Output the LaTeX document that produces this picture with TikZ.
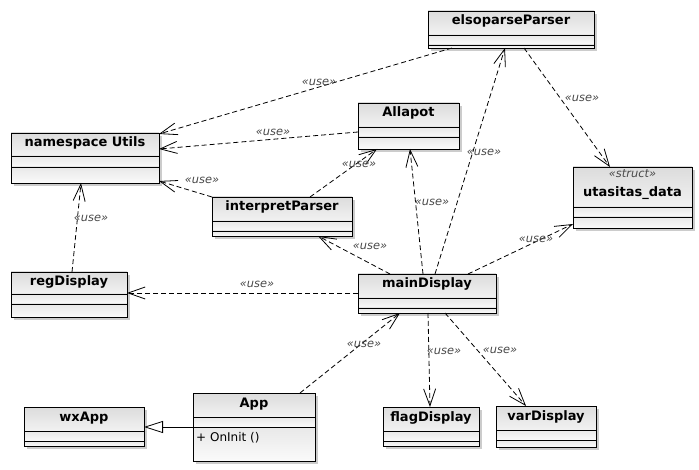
\documentclass[tikz,border=0pt]{standalone}
\usepackage{fontspec}
\setmainfont{DejaVu Sans}
\usetikzlibrary{arrows.meta,calc}
\definecolor{hdrtop}{HTML}{DCDCDC}
\definecolor{hdrbot}{HTML}{F2F2F2}
\definecolor{cmptop}{HTML}{E8E8E8}
\definecolor{cmpbot}{HTML}{FAFAFA}
\definecolor{lblgray}{HTML}{4A4A4A}
\tikzset{
  shadowfill/.style={fill=black, opacity=0.2},
  classframe/.style={draw=black, line width=0.9pt, inner sep=0pt, outer sep=0pt, anchor=north west, rectangle},
  classline/.style={draw=black, line width=0.9pt},
  classname/.style={font=\fontsize{13}{15}\selectfont\bfseries, anchor=base, inner sep=0pt},
  stereo/.style={font=\fontsize{11.4}{13}\selectfont\itshape, text=lblgray, inner sep=0pt},
  opname/.style={font=\fontsize{12}{14}\selectfont, anchor=base west, inner sep=0pt},
  lbl/.style={font=\fontsize{11.4}{13}\selectfont\itshape, text=lblgray, inner sep=0.5pt},
  dep/.style={draw=black, line width=0.8pt, dash pattern=on 5pt off 3pt,
    -{Straight Barb[length=17pt,width=12pt,line width=0.8pt]}},
  gen/.style={draw=black, line width=0.8pt,
    -{Triangle[open, length=19pt, width=12pt, fill=white, line width=0.8pt]}},
}
\newcommand\umlclass[8]{%
  \fill[shadowfill] ({#2+3},{#3+3}) rectangle ({#4+3},{#5+3});
  \shade[top color=hdrtop, bottom color=hdrbot] (#2,#3) rectangle (#4,#6);
  \shade[top color=cmptop, bottom color=cmpbot] (#2,#6) rectangle (#4,#7);
  \shade[top color=cmptop, bottom color=cmpbot] (#2,#7) rectangle (#4,#5);
  \node[classframe, minimum width={(#4-#2)*1pt}, minimum height={(#5-#3)*1pt}] (#1) at (#2,#3) {};
  \draw[classline] (#2,#6) -- (#4,#6) (#2,#7) -- (#4,#7);
  \node[classname] (#1-t) at ({(#2+#4)/2},{#3+14}) {#8};
}
\begin{document}
\begin{tikzpicture}[x=1pt,y=-1pt]
\useasboundingbox (0,0) rectangle (699,470);
\fill[white] (0,0) rectangle (699,470);

\umlclass{elso}{428}{11}{594}{48}{35}{45}{elsoparseParser}
\umlclass{utils}{11}{133}{159}{183}{156}{167}{namespace Utils}
\umlclass{allapot}{358}{103}{459}{149}{127}{137}{Allapot}
\umlclass{utas}{573}{167}{692}{228}{207}{217}{}
\node[stereo] (utas-s) at (632.5,174) {«struct»};
\node[classname] (utas-n) at (632.5,197) {utasitas\_data};
\umlclass{interp}{212}{197}{352}{236}{221}{231}{interpretParser}
\umlclass{reg}{11}{272}{127}{317}{294}{304}{regDisplay}
\umlclass{main}{358}{274}{496}{313}{298}{308}{mainDisplay}
\umlclass{wx}{24}{407}{144}{446}{431}{441}{wxApp}
\umlclass{app}{193}{393}{315}{461}{417}{427}{App}
\node[opname] (app-op) at (196,441) {+ OnInit ()};
\umlclass{flag}{383}{407}{479}{446}{431}{441}{flagDisplay}
\umlclass{var}{496}{406}{596}{447}{430}{440}{varDisplay}

% dependencies
\draw[dep] ($(elso.north west)+(24,37)$) -- ($(utils.north west)+(148,1)$);
\draw[dep] ($(allapot.north west)+(0,29)$) -- ($(utils.north west)+(148,16)$);
\draw[dep] (interp.north west) -- ($(utils.north west)+(148,48)$);
\draw[dep] ($(interp.north west)+(98,0)$) -- ($(allapot.north west)+(19,46)$);
\draw[dep] ($(reg.north west)+(61,0)$) -- ($(utils.north west)+(70,50)$);
\draw[dep] ($(main.north west)+(32,0)$) -- ($(interp.north west)+(106,39)$);
\draw[dep] ($(main.north west)+(65,0)$) -- ($(allapot.north west)+(52,46)$);
\draw[dep] ($(main.north west)+(77,0)$) -- ($(elso.north west)+(77,37)$);
\draw[dep] ($(main.north west)+(110,0)$) -- ($(utas.north west)+(0,57)$);
\draw[dep] ($(elso.north west)+(96,37)$) -- ($(utas.north west)+(37,0)$);
\draw[dep] ($(main.north west)+(0,19)$) -- ($(reg.north west)+(116,21)$);
\draw[dep] ($(app.north west)+(107,0)$) -- ($(main.north west)+(42,39)$);
\draw[dep] ($(main.north west)+(70,39)$) -- ($(flag.north west)+(47,0)$);
\draw[dep] ($(main.north west)+(87,39)$) -- ($(var.north west)+(30,0)$);
\draw[gen] ($(app.north west)+(0,34)$) -- ($(wx.north west)+(120,20)$);

% labels
\node[lbl] (l1) at (319,82) {«use»};
\node[lbl] (l2) at (273,132) {«use»};
\node[lbl] (l3) at (202,180) {«use»};
\node[lbl] (l4) at (359,164) {«use»};
\node[lbl] (l5) at (91,218) {«use»};
\node[lbl] (l6) at (370,246) {«use»};
\node[lbl] (l7) at (432,202) {«use»};
\node[lbl] (l8) at (484,152) {«use»};
\node[lbl] (l9) at (536,239) {«use»};
\node[lbl] (l10) at (582,98) {«use»};
\node[lbl] (l11) at (257,284) {«use»};
\node[lbl] (l12) at (364,344) {«use»};
\node[lbl] (l13) at (444,351) {«use»};
\node[lbl] (l14) at (500,350) {«use»};
\end{tikzpicture}
\end{document}
